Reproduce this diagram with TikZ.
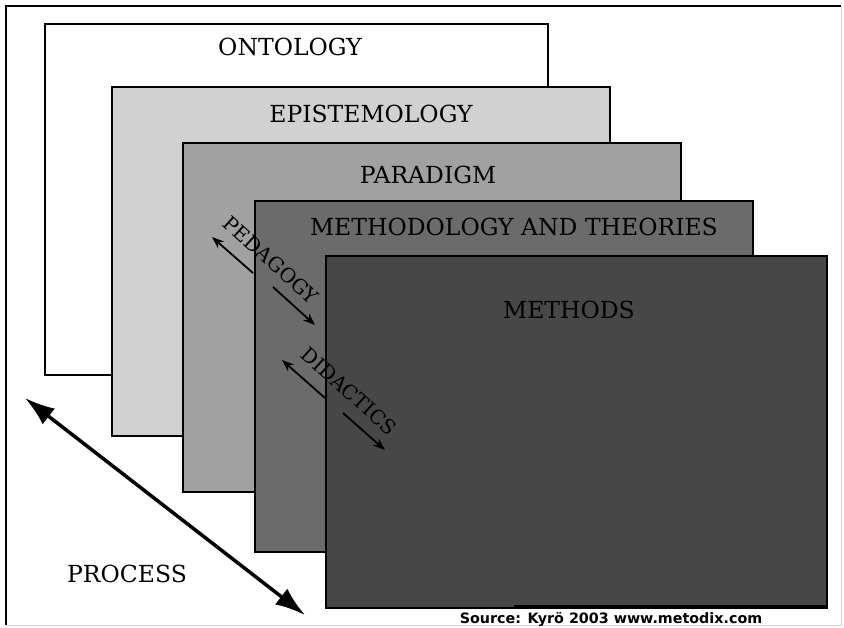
\documentclass[tikz,border=0pt]{standalone}
\usepackage{fontspec}
\newfontfamily\srcfont{DejaVu Sans}
\newfontfamily\lblfont{DejaVu Serif}
\usepackage{tikz}
\usetikzlibrary{arrows.meta}
\definecolor{episgray}{gray}{0.82}
\definecolor{paragray}{gray}{0.63}
\definecolor{methgray}{gray}{0.42}
\definecolor{mtdsgray}{gray}{0.28}
\begin{document}
\begin{tikzpicture}[x=1pt,y=-1pt,
        layer/.style={draw=black, line width=1.2pt, inner sep=0pt, outer sep=0pt, anchor=north west},
        lbl/.style={font=\lblfont\fontsize{23.5}{28}\selectfont},
        diag/.style={font=\lblfont\fontsize{20}{24}\selectfont, rotate=-42},
        small/.style={line width=1.8pt, -{Stealth[length=12pt,width=9pt]}}]
        \useasboundingbox (0,0) rectangle (844,627);
        \draw[line width=1.5pt] (6,625) -- (6,6) -- (841,6); \draw[gray!35]
        (841,6) -- (841,625) -- (6,625);
        % the stacked layers
        \node[layer, fill=white, minimum width=503pt, minimum height=351pt] (onto) at (45,24) {};
        \node[layer, fill=episgray, minimum width=498pt, minimum height=349pt] (epis) at (112,87) {};
        \node[layer, fill=paragray, minimum width=498pt, minimum height=349pt] (para) at (183,143) {};
        \node[layer, fill=methgray, minimum width=498pt, minimum height=351pt] (meth) at (255,201) {};
        \node[layer, fill=mtdsgray, minimum width=501pt, minimum height=352pt] (mtds) at (326,256) {};
        \draw[line width=3pt] ([yshift=1.5pt]mtds.south east) -- ++(-313,0);
        \node[lbl] (ontolbl) at (290,47) {ONTOLOGY}; \node[lbl] (epislbl) at
        (371,114) {EPISTEMOLOGY}; \node[lbl] (paralbl) at (428,175) {PARADIGM};
        \node[lbl] (methlbl) at (514,227) {METHODOLOGY AND THEORIES};
        \node[lbl] (mtdslbl) at (569,310) {METHODS}; \node[lbl] (proclbl) at
        (127,574) {PROCESS};
        \node[anchor=base, font=\srcfont\bfseries\fontsize{14.3}{17}\selectfont]
        (source) at (611,623) {Source: Kyrö 2003 www.metodix.com};
        % process arrow
        \coordinate (procA) at (25,398); \coordinate (procB) at (305,615);
        \draw[line width=3.5pt, {Latex[length=30pt,width=20pt]}-{Latex[length=30pt,width=20pt]}]
        (procA) -- (procB);
        % pedagogy and didactics
        \node[diag] (peda) at (271,260) {PEDAGOGY}; \node[diag] (dida) at
        (349,391) {DIDACTICS};
        \coordinate (pedaA) at (253,273); \coordinate (pedaB) at (212,237);
        \coordinate (pedaC) at (273,287); \coordinate (pedaD) at (315,325);
        \coordinate (didaA) at (325,398); \coordinate (didaB) at (282,360);
        \coordinate (didaC) at (343,413); \coordinate (didaD) at (385,450);
        \draw[small] (pedaA) -- (pedaB); \draw[small] (pedaC) -- (pedaD);
        \draw[small] (didaA) -- (didaB); \draw[small] (didaC) -- (didaD);
\end{tikzpicture}
\end{document}
